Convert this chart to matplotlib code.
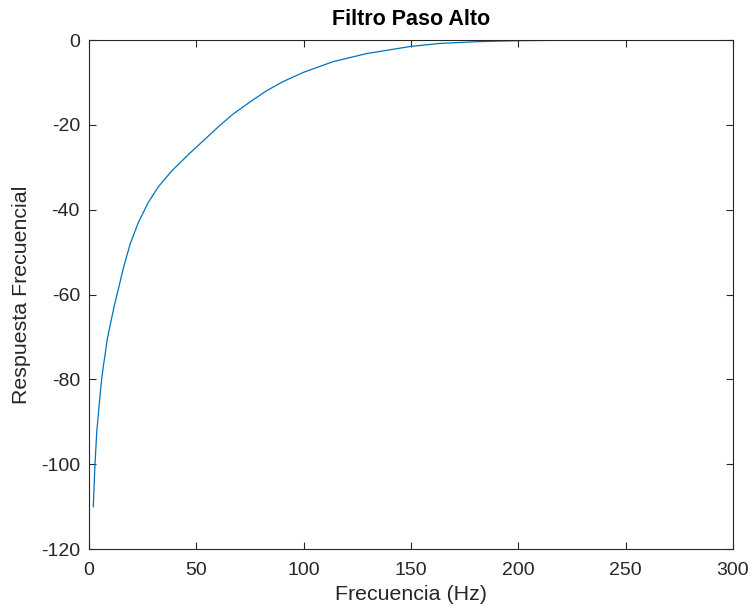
import numpy as np
import matplotlib.pyplot as plt

# valores
frecuencia = [2.0, 2.8, 3.6, 5.1, 5.9, 6.6, 7.4, 8.5, 9.7, 11.8, 13.7, 16.0, 19.1, 23.0, 27.6, 32.3,
              38.5, 46.3, 54.0, 60.6, 67.0, 75.0, 82.6, 90.0, 100, 113.7, 129.3, 150, 163.5, 180,
              200, 225, 250, 275, 300]
respuesta = [-110, -100, -92.5, -84, -80, -77.2, -74.5, -70.6, -67.6, -62.6, -58.7, -53.8, -48.2, -43.0, -38.3, -34.6,
             -30.9, -27.0, -23.4, -20.3, -17.5, -14.6, -12.0, -9.9, -7.6, -5.1, -3.2, -1.5, -0.8, -0.4,
             -0.15, -0.05, -0.02, 0, 0]

x_ticks = [0, 50, 100, 150, 200, 250, 300]
y_ticks = [-120, -100, -80, -60, -40, -20, 0]

plt.rcParams['font.family'] = ['Liberation Sans', 'DejaVu Sans']
plt.rcParams['axes.unicode_minus'] = False

fig = plt.figure(figsize=(7.51, 6.12), dpi=100)
ax = fig.add_axes([0.1185, 0.1029, 0.8575, 0.8317])

ax.plot(frecuencia, respuesta, color='#0072BD', linewidth=0.9)

ax.set_xlim(0, 300)
ax.set_ylim(-120, 0)
ax.set_xticks(x_ticks)
ax.set_yticks(y_ticks)

ax.tick_params(direction='in', top=True, right=True, length=5, width=0.8,
               colors='#262626', labelsize=14)
ax.tick_params(axis='x', pad=9)
ax.tick_params(axis='y', pad=6.5)
for s in ax.spines.values():
    s.set_color('#262626')
    s.set_linewidth(0.8)

ax.set_title('Filtro Paso Alto', fontsize=15.5, fontweight='bold', color='black', pad=11)
ax.set_xlabel('Frecuencia (Hz)', fontsize=15.4, color='#262626', labelpad=5)
ax.set_ylabel('Respuesta Frecuencial', fontsize=15.4, color='#262626', labelpad=7)

fig.savefig('out.png', dpi=100)
